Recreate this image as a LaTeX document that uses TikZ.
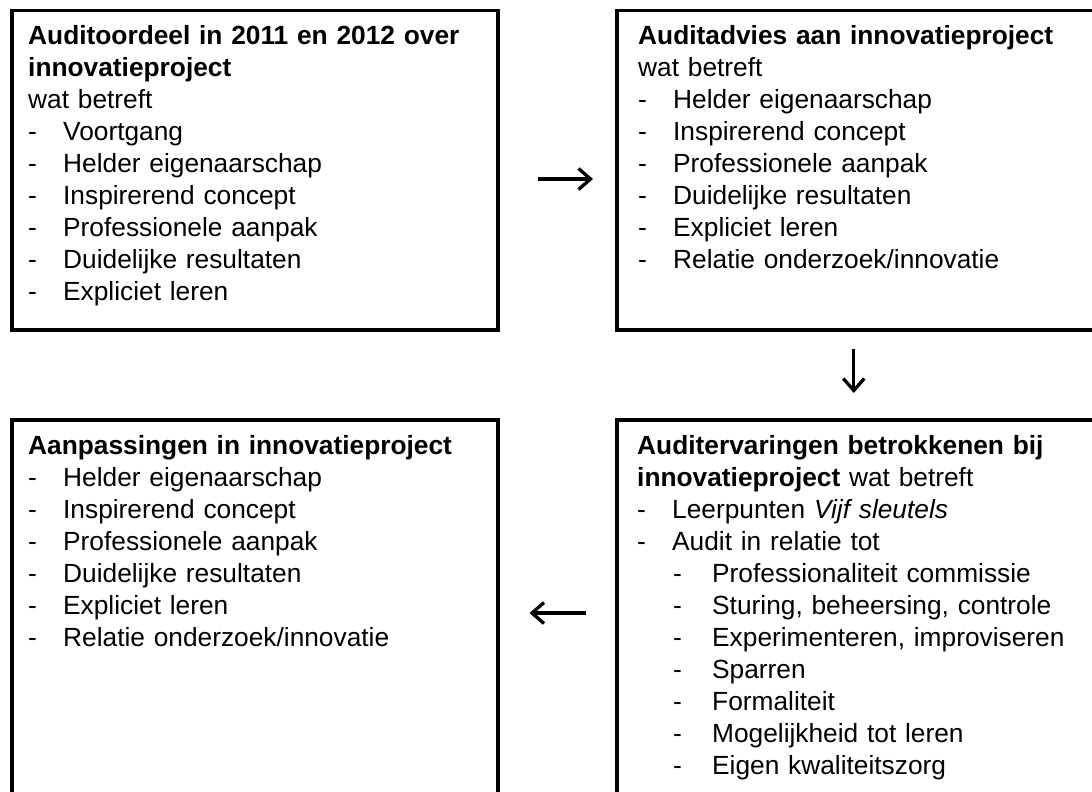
\documentclass[tikz,border=0pt]{standalone}
\usepackage{fontspec}
\setmainfont{Liberation Sans}
\usetikzlibrary{arrows.meta}
\newcommand\dashitem[1]{\makebox[35pt][l]{-}#1}
\newcommand\subdashitem[1]{\hspace*{36pt}\makebox[39pt][l]{-}#1}
\begin{document}
\begin{tikzpicture}[x=1pt,y=-1pt,
  box/.style={draw, line width=3.5pt, inner sep=0pt, minimum width=486pt, anchor=north west},
  txt/.style={anchor=base west, inner sep=0pt, align=left, text width=470pt,
    font=\fontsize{26.3}{32}\selectfont},
  arr/.style={line width=3.3pt, -{Straight Barb[length=12pt,width=21pt,line width=3.3pt]}}]
\useasboundingbox (0,0) rectangle (1092,792);
\clip (0,0) rectangle (1092,792);
\fill[white] (0,0) rectangle (1092,792);
% boxes
\node[box, minimum height=319pt] (b1) at (10,9) {};
\node[box, minimum height=319pt] (b2) at (615,9) {};
\node[box, minimum height=400pt] (b3) at (10,418) {};
\node[box, minimum height=400pt] (b4) at (615,418) {};
% texts
\node[txt] (t1) at (28,45) {\textbf{Auditoordeel in 2011 en 2012 over}\\
  \textbf{innovatieproject}\\
  wat betreft\\
  \dashitem{Voortgang}\\
  \dashitem{Helder eigenaarschap}\\
  \dashitem{Inspirerend concept}\\
  \dashitem{Professionele aanpak}\\
  \dashitem{Duidelijke resultaten}\\
  \dashitem{Expliciet leren}};
\node[txt] (t2) at (638,45) {\textbf{Auditadvies aan innovatieproject}\\
  wat betreft\\
  \dashitem{Helder eigenaarschap}\\
  \dashitem{Inspirerend concept}\\
  \dashitem{Professionele aanpak}\\
  \dashitem{Duidelijke resultaten}\\
  \dashitem{Expliciet leren}\\
  \dashitem{Relatie onderzoek/innovatie}};
\node[txt] (t3) at (28,454) {\textbf{Aanpassingen in innovatieproject}\\
  \dashitem{Helder eigenaarschap}\\
  \dashitem{Inspirerend concept}\\
  \dashitem{Professionele aanpak}\\
  \dashitem{Duidelijke resultaten}\\
  \dashitem{Expliciet leren}\\
  \dashitem{Relatie onderzoek/innovatie}};
\node[txt] (t4) at (637,454) {\textbf{Auditervaringen betrokkenen bij}\\
  \textbf{innovatieproject} wat betreft\\
  \dashitem{Leerpunten \textit{Vijf sleutels}}\\
  \dashitem{Audit in relatie tot}\\
  \subdashitem{Professionaliteit commissie}\\
  \subdashitem{Sturing, beheersing, controle}\\
  \subdashitem{Experimenteren, improviseren}\\
  \subdashitem{Sparren}\\
  \subdashitem{Formaliteit}\\
  \subdashitem{Mogelijkheid tot leren}\\
  \subdashitem{Eigen kwaliteitszorg}};
% arrows
\draw[arr, shorten <=38pt, shorten >=22pt] (b1.east |- 0,179) -- (b2.west |- 0,179);
\draw[arr, shorten <=17pt, shorten >=25pt] ([xshift=-6pt]b2.south) -- ([xshift=-6pt]b4.north);
\draw[arr, shorten <=29pt, shorten >=30pt] (b4.west |- 0,613) -- (b3.east |- 0,613);
\end{tikzpicture}
\end{document}
